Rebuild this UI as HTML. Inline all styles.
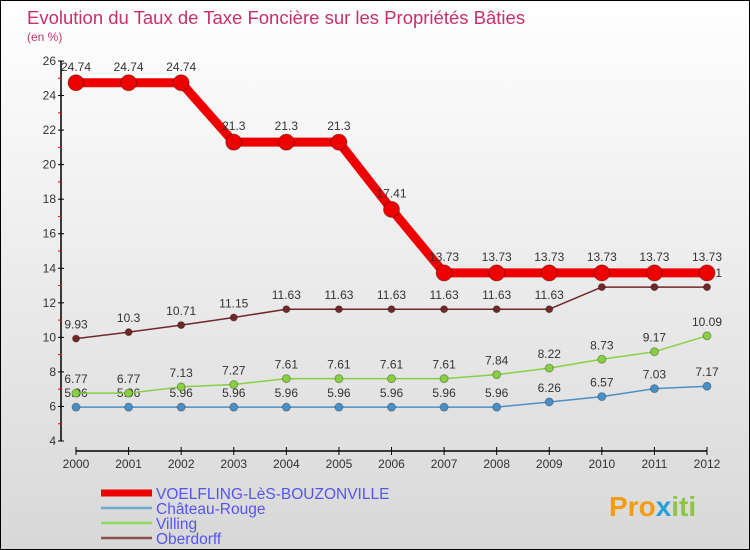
<!DOCTYPE html>
<html><head><meta charset="utf-8"><style>
body{margin:0;}
#c{width:748px;height:548px;border:1px solid #000;background:linear-gradient(#fff,#d8d8d8);position:relative;overflow:hidden;font-family:"Liberation Sans",sans-serif;}
svg{position:absolute;left:0;top:0}
</style></head><body>
<div id="c">
<svg id="s" width="750" height="550">
<text x="26" y="23" font-size="18.5" fill="#c8306a">Evolution du Taux de Taxe Foncière sur les Propriétés Bâties</text>
<text x="26" y="40" font-size="12" fill="#c8306a">(en %)</text>
<text x="608" y="515" font-size="28" font-weight="bold" fill="#f39c12">Pro<tspan fill="#2a9fd6">x</tspan><tspan fill="#8cc63f">iti</tspan></text>
</svg>
</div>
<script>
const years=[2000,2001,2002,2003,2004,2005,2006,2007,2008,2009,2010,2011,2012];
const voelfling=[24.74,24.74,24.74,21.3,21.3,21.3,17.41,13.73,13.73,13.73,13.73,13.73,13.73];
const chateau=[5.96,5.96,5.96,5.96,5.96,5.96,5.96,5.96,5.96,6.26,6.57,7.03,7.17];
const villing=[6.77,6.77,7.13,7.27,7.61,7.61,7.61,7.61,7.84,8.22,8.73,9.17,10.09];
const oberdorff=[9.93,10.3,10.71,11.15,11.63,11.63,11.63,11.63,11.63,11.63,12.91,12.91,12.91];
const yTicks=[4,6,8,10,12,14,16,18,20,22,24,26];
const seriesNames=["VOELFLING-LèS-BOUZONVILLE","Château-Rouge","Villing","Oberdorff"];
const NS="http://www.w3.org/2000/svg";
const svg=document.getElementById('s');
const X=i=>75+i*(706-75)/(years.length-1);
const Y=v=>440-(v-4)*(380/22);
function el(t,a,p){const e=document.createElementNS(NS,t);for(const k in a)e.setAttribute(k,a[k]);(p||svg).appendChild(e);return e;}
let ax=el('line',{x1:60,y1:60,x2:60,y2:440,stroke:'#000','stroke-width':1.5});


let bx=el('line',{x1:75,y1:450,x2:706,y2:450,stroke:'#000','stroke-width':1.5});


yTicks.forEach((t,i)=>{
  el('line',{x1:57,y1:Y(t),x2:63,y2:Y(t),stroke:'#000'});
  if(i<yTicks.length-1)el('line',{x1:57,y1:Y(t+1),x2:61,y2:Y(t+1),stroke:'#e00'});
  const tx=el('text',{x:55,y:Y(t)+4,'text-anchor':'end','font-size':12,fill:'#333'});
  tx.textContent=t;
  
  
});
years.forEach((y,i)=>{
  el('line',{x1:X(i),y1:446,x2:X(i),y2:454,stroke:'#000'});
  const tx=el('text',{x:X(i),y:467,'text-anchor':'middle','font-size':12,fill:'#333'});
  tx.textContent=y;
  
  
});
function series(data,color,w,r,name,dy){
  const g=el('g',{});
  
  
  el('polyline',{points:data.map((v,i)=>X(i)+','+Y(v)).join(' '),fill:'none',stroke:color,'stroke-width':w,'stroke-linejoin':'round'},g);
  data.forEach((v,i)=>{
    const c=el('circle',{cx:X(i),cy:Y(v),r:r,fill:color,stroke:'rgba(0,0,0,0.3)'},g);
    
    
    const t=el('text',{x:X(i),y:Y(v)+dy,'text-anchor':'middle','font-size':12,fill:'#333'},g);
    t.textContent=v;
  });
}
series(chateau,'#4a90c8',1.5,4,'series-chateau-rouge',-10);
series(villing,'#88d040',1.5,4,'series-villing',-10);
series(oberdorff,'#702828',1.5,3.5,'series-oberdorff',-10);
series(voelfling,'#ee0000',9,8,'series-voelfling',-12);
const lc=['#ee0000','#6fa8d0','#90d860','#8a5050'];
seriesNames.forEach((n,i)=>{
  const y=492+i*15;
  const g=el('g',{});
  
  
  el('line',{x1:100,y1:y,x2:151,y2:y,stroke:lc[i],'stroke-width':i==0?7:2.5},g);
  const t=el('text',{x:155,y:y+6,'font-size':15.5,fill:'#5555ee'},g);
  t.textContent=n;
});
</script>
</body></html>
